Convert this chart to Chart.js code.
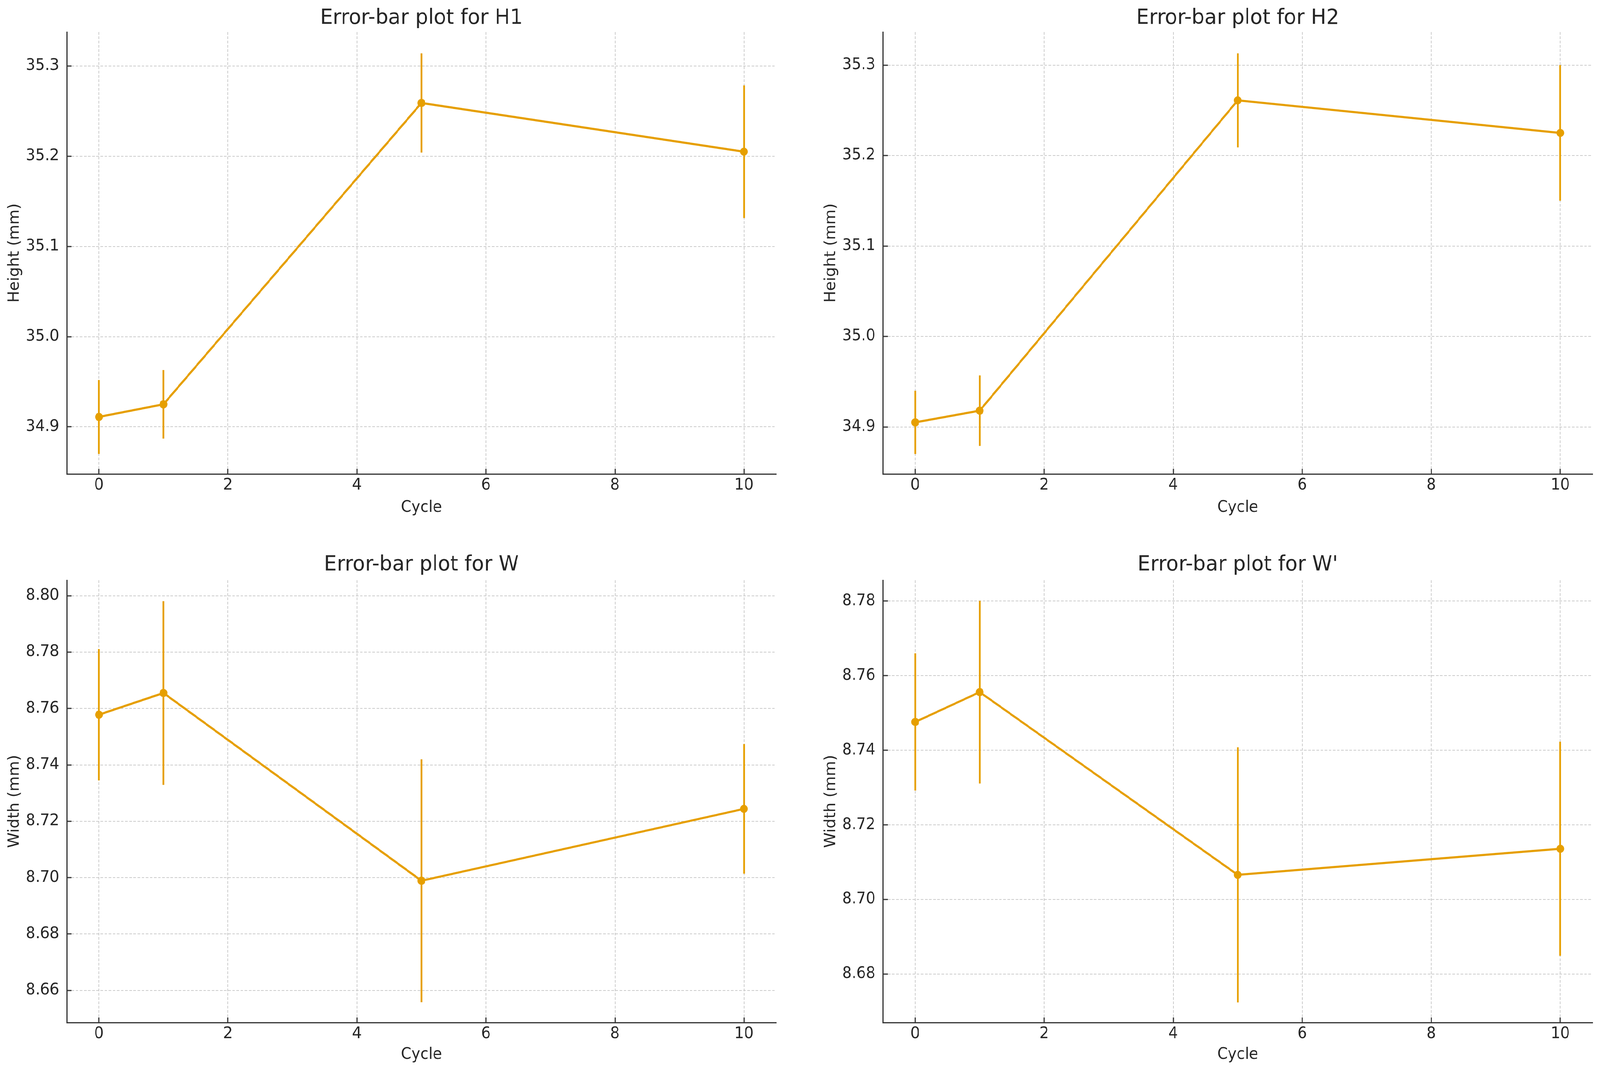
<!DOCTYPE html>
<html>
<head>
<meta charset="utf-8">
<title>Error-bar plots</title>
<script src="https://cdn.jsdelivr.net/npm/chart.js@4.4.1/dist/chart.umd.min.js"></script>
<style>
  html, body { margin: 0; padding: 0; background: #ffffff; overflow: hidden; }
  #stage { width: 4271px; height: 2741px; position: absolute; left: 0; top: 0; transform-origin: 0 0; }
  .panel { position: absolute; }
</style>
</head>
<body>
<div id="stage">
  <div class="panel" style="left:0px;top:0px;"><canvas id="chartH1" width="2092" height="1370"></canvas></div>
  <div class="panel" style="left:2179px;top:0px;"><canvas id="chartH2" width="2092" height="1370"></canvas></div>
  <div class="panel" style="left:0px;top:1370px;"><canvas id="chartW" width="2092" height="1371"></canvas></div>
  <div class="panel" style="left:2179px;top:1370px;"><canvas id="chartWp" width="2092" height="1371"></canvas></div>
</div>
<script>
// ---------- datos ----------
const cycles = [0, 1, 5, 10];

const h1Mean = [34.911, 34.925, 35.259, 35.205];
const h1Err  = [0.041, 0.038, 0.055, 0.0735];

const h2Mean = [34.905, 34.918, 35.261, 35.225];
const h2Err  = [0.035, 0.039, 0.052, 0.075];

const wMean = [8.7578, 8.7655, 8.6989, 8.7244];
const wErr  = [0.0233, 0.0326, 0.0431, 0.0230];

const wpMean = [8.7476, 8.7556, 8.7066, 8.7136];
const wpErr  = [0.0184, 0.0245, 0.0342, 0.0287];

const xTicks = [0, 2, 4, 6, 8, 10];
const xTickLabels = ['0', '2', '4', '6', '8', '10'];

const heightTicks = [34.9, 35.0, 35.1, 35.2, 35.3];
const heightTickLabels = ['34.9', '35.0', '35.1', '35.2', '35.3'];

const wTicks = [8.66, 8.68, 8.70, 8.72, 8.74, 8.76, 8.78, 8.80];
const wTickLabels = ['8.66', '8.68', '8.70', '8.72', '8.74', '8.76', '8.78', '8.80'];

const wpTicks = [8.68, 8.70, 8.72, 8.74, 8.76, 8.78];
const wpTickLabels = ['8.68', '8.70', '8.72', '8.74', '8.76', '8.78'];

// rangos de los ejes
const xRange = [-0.5, 10.5];
const h1Range = [34.8478, 35.3376];
const h2Range = [34.8480, 35.3365];
const wRange = [8.6486, 8.8055];
const wpRange = [8.6670, 8.7856];

// ---------- estilo ----------
const ORANGE = '#E69F00';
const TEXT = '#262626';
const SPINE = '#333333';
const GRID = '#cccccc';

// la ventana real puede no medir 4271x2741: ajustar el escenario a ella
const W0 = 4271, H0 = 2741;
const sx = (window.innerWidth || W0) / W0;
const sy = (window.innerHeight || H0) / H0;
document.getElementById('stage').style.transform = 'scale(' + sx + ',' + sy + ')';
const DPR = Math.max(sx, sy) * (window.devicePixelRatio || 1);

Chart.defaults.font.family = "'DejaVu Sans', sans-serif";
Chart.defaults.color = TEXT;

// barras de error dibujadas con las escalas del grafico
const errorBarPlugin = {
  id: 'errorBars',
  beforeDatasetsDraw(chart, args, opts) {
    const { ctx, scales: { x, y } } = chart;
    const ds = chart.data.datasets[0];
    ctx.save();
    ctx.strokeStyle = opts.color;
    ctx.lineWidth = opts.width;
    ds.data.forEach((p, i) => {
      const px = x.getPixelForValue(p.x);
      ctx.beginPath();
      ctx.moveTo(px, y.getPixelForValue(p.y - opts.errors[i]));
      ctx.lineTo(px, y.getPixelForValue(p.y + opts.errors[i]));
      ctx.stroke();
    });
    ctx.restore();
  }
};

function crearPanel(id, titulo, yTitulo, medias, errores, yRange, yTicks, yLabels, fila) {
  const top = fila === 0;
  new Chart(document.getElementById(id).getContext('2d'), {
    type: 'line',
    data: {
      datasets: [{
        data: cycles.map((c, i) => ({ x: c, y: medias[i] })),
        borderColor: ORANGE,
        backgroundColor: ORANGE,
        borderWidth: 5.5,
        pointRadius: 10.5,
        pointHoverRadius: 10.5,
        pointBorderWidth: 0,
        tension: 0
      }]
    },
    options: {
      responsive: false,
      devicePixelRatio: DPR,
      animation: false,
      layout: { padding: { left: 0, right: 20, top: 0, bottom: 0 } },
      plugins: {
        legend: { display: false },
        tooltip: { enabled: false },
        title: { display: false },
        errorBars: { errors: errores, color: ORANGE, width: 4.5 }
      },
      scales: {
        // eje superior vacio: solo lleva el titulo, centrado sobre el area del grafico
        xTop: {
          type: 'linear',
          position: 'top',
          min: xRange[0],
          max: xRange[1],
          afterBuildTicks: s => { s.ticks = []; },
          afterFit: s => { s.height = top ? 82 : 115; },
          ticks: { display: false },
          grid: { display: false },
          border: { display: false },
          title: {
            display: true,
            text: titulo,
            color: TEXT,
            font: { size: 54, weight: 'normal' },
            padding: { top: top ? 15 : 44, bottom: 0 }
          }
        },
        x: {
          type: 'linear',
          position: 'bottom',
          min: xRange[0],
          max: xRange[1],
          afterBuildTicks: s => { s.ticks = xTicks.map(v => ({ value: v })); },
          afterFit: s => { s.height = top ? 157 : 124; },
          ticks: {
            font: { size: 40 },
            padding: 19,
            maxRotation: 0,
            autoSkip: false,
            callback: (v, i) => xTickLabels[i]
          },
          grid: { color: GRID, lineWidth: 2, drawTicks: true, tickLength: -13, tickColor: SPINE, tickWidth: 3 },
          border: { display: true, color: SPINE, width: 3, dash: [7, 4] },
          title: {
            display: true,
            text: 'Cycle',
            font: { size: 40 },
            padding: { top: 0, bottom: top ? 46 : 17 }
          }
        },
        y: {
          type: 'linear',
          min: yRange[0],
          max: yRange[1],
          afterBuildTicks: s => { s.ticks = yTicks.map(v => ({ value: v })); },
          afterFit: s => { s.width = 178; },
          ticks: {
            font: { size: 40 },
            padding: 33,
            autoSkip: false,
            callback: (v, i) => yLabels[i]
          },
          grid: { color: GRID, lineWidth: 2, drawTicks: true, tickLength: -13, tickColor: SPINE, tickWidth: 3 },
          border: { display: true, color: SPINE, width: 3, dash: [7, 4] },
          title: {
            display: true,
            text: yTitulo,
            font: { size: 40 },
            padding: { top: 16, bottom: 0 }
          }
        }
      }
    },
    plugins: [errorBarPlugin]
  });
}

crearPanel('chartH1', 'Error-bar plot for H1', 'Height (mm)', h1Mean, h1Err, h1Range, heightTicks, heightTickLabels, 0);
crearPanel('chartH2', 'Error-bar plot for H2', 'Height (mm)', h2Mean, h2Err, h2Range, heightTicks, heightTickLabels, 0);
crearPanel('chartW', 'Error-bar plot for W', 'Width (mm)', wMean, wErr, wRange, wTicks, wTickLabels, 1);
crearPanel('chartWp', "Error-bar plot for W'", 'Width (mm)', wpMean, wpErr, wpRange, wpTicks, wpTickLabels, 1);
</script>
</body>
</html>
